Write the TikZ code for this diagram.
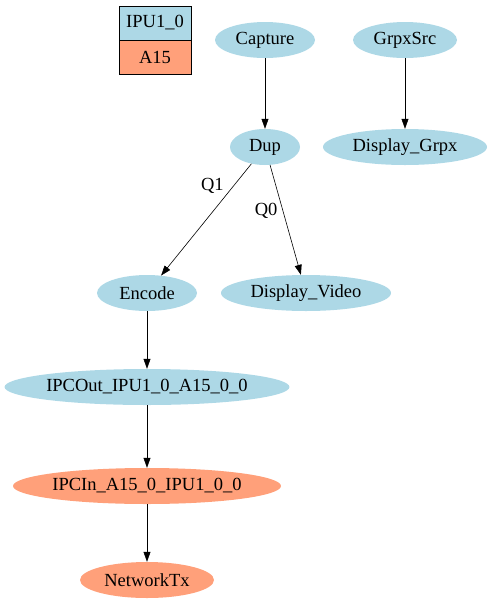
\documentclass[tikz,border=0pt]{standalone}
\usepackage{fontspec}
\setmainfont{Liberation Serif}
\usetikzlibrary{arrows.meta,positioning,shapes.geometric}
\definecolor{ipublue}{RGB}{173,216,230}
\definecolor{asalmon}{RGB}{255,160,122}
\tikzset{
  ipu/.style={ellipse,fill=ipublue,minimum height=36pt,inner sep=0pt},
  afif/.style={ellipse,fill=asalmon,minimum height=36pt,inner sep=0pt},
  link/.style={-{Triangle[length=10pt,width=7pt]},line width=.6pt},
  cell/.style={draw,line width=.8pt,minimum width=72pt,minimum height=34pt,inner sep=0pt}
}
\begin{document}
\begin{tikzpicture}[x=1pt,y=-1pt,font=\fontsize{18.5}{21}\selectfont]
\useasboundingbox (0,0) rectangle (491,611);
%% legend
\node[cell,fill=ipublue] (lgipu) at (155,23) {IPU1\_0};%%
\node[cell,fill=asalmon] (lga) at (155,57) {A15};%%
%% IPU1_0 nodes
\node[ipu,minimum width=100pt] (capture) at (265,40) {Capture};%%
\node[ipu,minimum width=104pt] (grpxsrc) at (405,40) {GrpxSrc};%%
\node[ipu,minimum width=70pt] (dup) at (265,147) {Dup};%%
\node[ipu,minimum width=164pt] (dispgrpx) at (405,147) {Display\_Grpx};%%
\node[ipu,minimum width=100pt] (encode) at (147,293) {Encode};%%
\node[ipu,minimum width=170pt] (dispvideo) at (306,293) {Display\_Video};%%
\node[ipu,minimum width=284pt] (ipcout) at (147,387) {IPCOut\_IPU1\_0\_A15\_0\_0};%%
%% A15 nodes
\node[afif,minimum width=268pt] (ipcin) at (147,486) {IPCIn\_A15\_0\_IPU1\_0\_0};%%
\node[afif,minimum width=134pt] (nettx) at (147,580) {NetworkTx};%%
%% links
\draw[link] (capture) -- (dup);%%
\draw[link] (grpxsrc) -- (dispgrpx);%%
\draw[link] (dup) -- node[pos=.2,anchor=east,xshift=-6pt] {Q1} (encode);%%
\draw[link] (dup) -- node[pos=.42,anchor=east,xshift=-2pt] {Q0} (dispvideo);%%
\draw[link] (encode) -- (ipcout);%%
\draw[link] (ipcout) -- (ipcin);%%
\draw[link] (ipcin) -- (nettx);%%
\end{tikzpicture}
\end{document}
